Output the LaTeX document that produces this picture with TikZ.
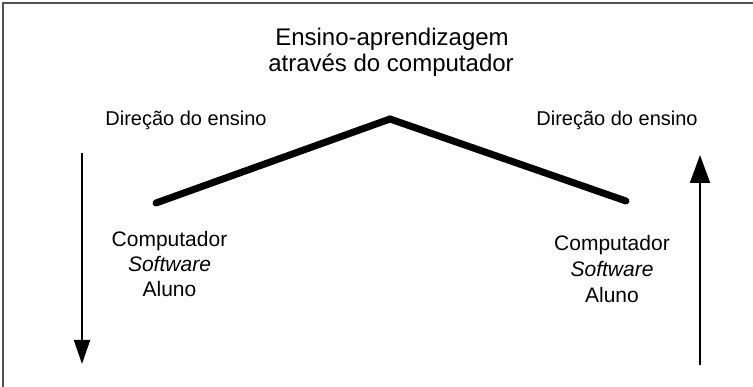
\documentclass[tikz,border=0pt]{standalone}
\usepackage{fontspec}
\setmainfont{Liberation Sans}
\usetikzlibrary{arrows.meta}
\begin{document}
\begin{tikzpicture}[x=1pt,y=-1pt,
  title/.style={anchor=base,inner sep=0pt,font=\fontsize{24}{28}\selectfont},
  dirlabel/.style={anchor=base,inner sep=0pt,font=\fontsize{20}{24}\selectfont},
  item/.style={anchor=base,inner sep=0pt,font=\fontsize{21}{25}\selectfont},
  roof/.style={line width=7pt,line cap=round,line join=miter,black},
  dirarrow/.style={line width=2pt,black}]
\useasboundingbox (0,0) rectangle (753,387);
\draw[line width=1.6pt,black!68] (3,387) -- (3,3) -- (753,3);
% title
\node[title] (t1) at (392,46) {Ensino-aprendizagem};
\node[title] (t2) at (391,72) {através do computador};
% direction labels
\node[dirlabel] (dl) at (186,126) {Direção do ensino};
\node[dirlabel] (dr) at (617,126) {Direção do ensino};
% roof
\coordinate (rl) at (156,203);
\coordinate (ra) at (390,119);
\coordinate (rr) at (626,201);
\draw[roof] (rl) -- (ra) -- (rr);
% left items
\node[item] (lc) at (169.5,247) {Computador};
\node[item] (ls) at (169.5,272) {\itshape Software};
\node[item] (la) at (169.5,297) {Aluno};
% right items
\node[item] (rc) at (612,251) {Computador};
\node[item] (rs) at (612,277) {\itshape Software};
\node[item] (rla) at (612,303) {Aluno};
% arrows
\coordinate (a1s) at (82,153);
\coordinate (a1e) at (82,364);
\draw[dirarrow,-{Triangle[length=24pt,width=16pt]}] (a1s) -- (a1e);
\coordinate (a2s) at (700,365);
\coordinate (a2e) at (700,155);
\draw[dirarrow,-{Triangle[length=28pt,width=20pt]}] (a2s) -- (a2e);
\end{tikzpicture}
\end{document}
